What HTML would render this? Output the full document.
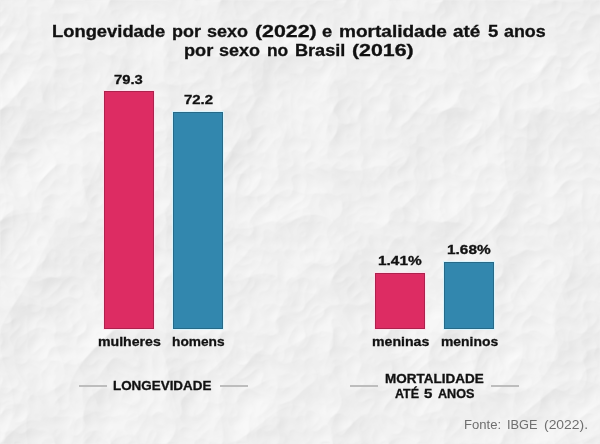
<!DOCTYPE html>
<html>
<head>
<meta charset="utf-8">
<style>
html,body{margin:0;padding:0;}
body{width:600px;height:444px;overflow:hidden;position:relative;background:#f0f0f0;font-family:"Liberation Sans",sans-serif;color:#111;}
.t{position:absolute;white-space:nowrap;font-weight:bold;line-height:1;transform-origin:0 0;-webkit-text-stroke:0.3px currentColor;}
.bar{position:absolute;}
.pk{background:#dd2c63;box-shadow:inset 0 0 0 1px rgba(0,0,0,0.22),0 0 0 1px rgba(255,225,238,0.9);}
.bl{background:#3287ae;box-shadow:inset 0 0 0 1px rgba(0,0,0,0.22),0 0 0 1px rgba(215,245,255,0.9);}
.ln{position:absolute;height:2px;background:#bdbdbd;}
</style>
</head>
<body>
<svg width="600" height="444" style="position:absolute;left:0;top:0">
<filter id="pp" x="0" y="0" width="100%" height="100%" color-interpolation-filters="sRGB">
<feTurbulence type="turbulence" baseFrequency="0.009" numOctaves="4" seed="3" result="n"/>
<feDiffuseLighting in="n" lighting-color="#fff" surfaceScale="3" diffuseConstant="1" result="l">
<feDistantLight azimuth="45" elevation="60"/>
</feDiffuseLighting>
<feColorMatrix type="matrix" values="0.33 0.33 0.33 0 0  0.33 0.33 0.33 0 0  0.33 0.33 0.33 0 0  0 0 0 0 1"/>
<feComponentTransfer><feFuncR type="linear" slope="0.42" intercept="0.582"/><feFuncG type="linear" slope="0.42" intercept="0.582"/><feFuncB type="linear" slope="0.42" intercept="0.582"/></feComponentTransfer>
</filter>
<rect width="600" height="444" filter="url(#pp)"/>
</svg>
<div class="bar pk" style="left:104px;top:91px;width:50px;height:238px;"></div>
<div class="bar bl" style="left:173px;top:112px;width:50px;height:217px;"></div>
<div class="bar pk" style="left:375px;top:272.5px;width:50px;height:56.5px;"></div>
<div class="bar bl" style="left:444px;top:262px;width:50px;height:67px;"></div>
<div class="ln" style="left:79px;top:385px;width:28px;"></div>
<div class="ln" style="left:220px;top:385px;width:28px;"></div>
<div class="ln" style="left:350px;top:385px;width:28px;"></div>
<div class="ln" style="left:491px;top:385px;width:28px;"></div>
<div class="t" id="a0" style="left:51.72px;top:24px;font-size:16px;transform:scaleX(1.1474);">Longevidade</div>
<div class="t" id="a1" style="left:171.51px;top:24px;font-size:16px;transform:scaleX(1.1214);">por</div>
<div class="t" id="a2" style="left:206.74px;top:24px;font-size:16px;transform:scaleX(1.1236);">sexo</div>
<div class="t" id="a3" style="left:254.61px;top:24px;font-size:16px;transform:scaleX(1.3339);">(2022)</div>
<div class="t" id="a4" style="left:321.79px;top:24px;font-size:16px;transform:scaleX(1.1423);">e</div>
<div class="t" id="a5" style="left:338.53px;top:24px;font-size:16px;transform:scaleX(1.1898);">mortalidade</div>
<div class="t" id="a6" style="left:452.52px;top:24px;font-size:16px;transform:scaleX(1.1818);">até</div>
<div class="t" id="a7" style="left:487.66px;top:24px;font-size:16px;transform:scaleX(1.1541);">5</div>
<div class="t" id="a8" style="left:503.59px;top:24px;font-size:16px;transform:scaleX(1.1150);">anos</div>
<div class="t" id="b0" style="left:183.74px;top:43px;font-size:16px;transform:scaleX(1.1371);">por</div>
<div class="t" id="b1" style="left:218.63px;top:43px;font-size:16px;transform:scaleX(1.1221);">sexo</div>
<div class="t" id="b2" style="left:266.50px;top:43px;font-size:16px;transform:scaleX(1.0870);">no</div>
<div class="t" id="b3" style="left:294.54px;top:43px;font-size:16px;transform:scaleX(1.1315);">Brasil</div>
<div class="t" id="b4" style="left:351.53px;top:43px;font-size:16px;transform:scaleX(1.3343);">(2016)</div>
<div class="t" id="v1" style="left:113.59px;top:74px;font-size:12px;transform:scaleX(1.2326);">79.3</div>
<div class="t" id="v2" style="left:183.55px;top:94px;font-size:12px;transform:scaleX(1.2444);">72.2</div>
<div class="t" id="c1" style="left:97.61px;top:335px;font-size:13px;transform:scaleX(1.0861);">mulheres</div>
<div class="t" id="c2" style="left:171.72px;top:335px;font-size:13px;transform:scaleX(1.0550);">homens</div>
<div class="t" id="v3" style="left:377.52px;top:255px;font-size:12px;transform:scaleX(1.2822);">1.41%</div>
<div class="t" id="v4" style="left:446.52px;top:244px;font-size:12px;transform:scaleX(1.2822);">1.68%</div>
<div class="t" id="c3" style="left:371.70px;top:335px;font-size:13px;transform:scaleX(1.0867);">meninas</div>
<div class="t" id="c4" style="left:440.53px;top:335px;font-size:13px;transform:scaleX(1.0695);">meninos</div>
<div class="t" id="s1" style="left:112.81px;top:380px;font-size:12px;transform:scaleX(1.1176);">LONGEVIDADE</div>
<div class="t" id="s2" style="left:384.61px;top:373px;font-size:12px;transform:scaleX(1.1241);">MORTALIDADE</div>
<div class="t" id="s3a" style="left:394.53px;top:388px;font-size:12px;transform:scaleX(1.0375);">ATÉ</div>
<div class="t" id="s3b" style="left:423.51px;top:388px;font-size:12px;transform:scaleX(1.2511);">5</div>
<div class="t" id="s3c" style="left:437.50px;top:388px;font-size:12px;transform:scaleX(1.0527);">ANOS</div>
<div class="t" id="f1a" style="left:463.68px;top:419px;font-size:12px;transform:scaleX(1.0901);font-weight:normal;-webkit-text-stroke:0;color:#6f6f6f;">Fonte:</div>
<div class="t" id="f1b" style="left:506.66px;top:419px;font-size:12px;transform:scaleX(1.0619);font-weight:normal;-webkit-text-stroke:0;color:#6f6f6f;">IBGE</div>
<div class="t" id="f1c" style="left:543.65px;top:419px;font-size:12px;transform:scaleX(1.1575);font-weight:normal;-webkit-text-stroke:0;color:#6f6f6f;">(2022).</div>
</body>
</html>
